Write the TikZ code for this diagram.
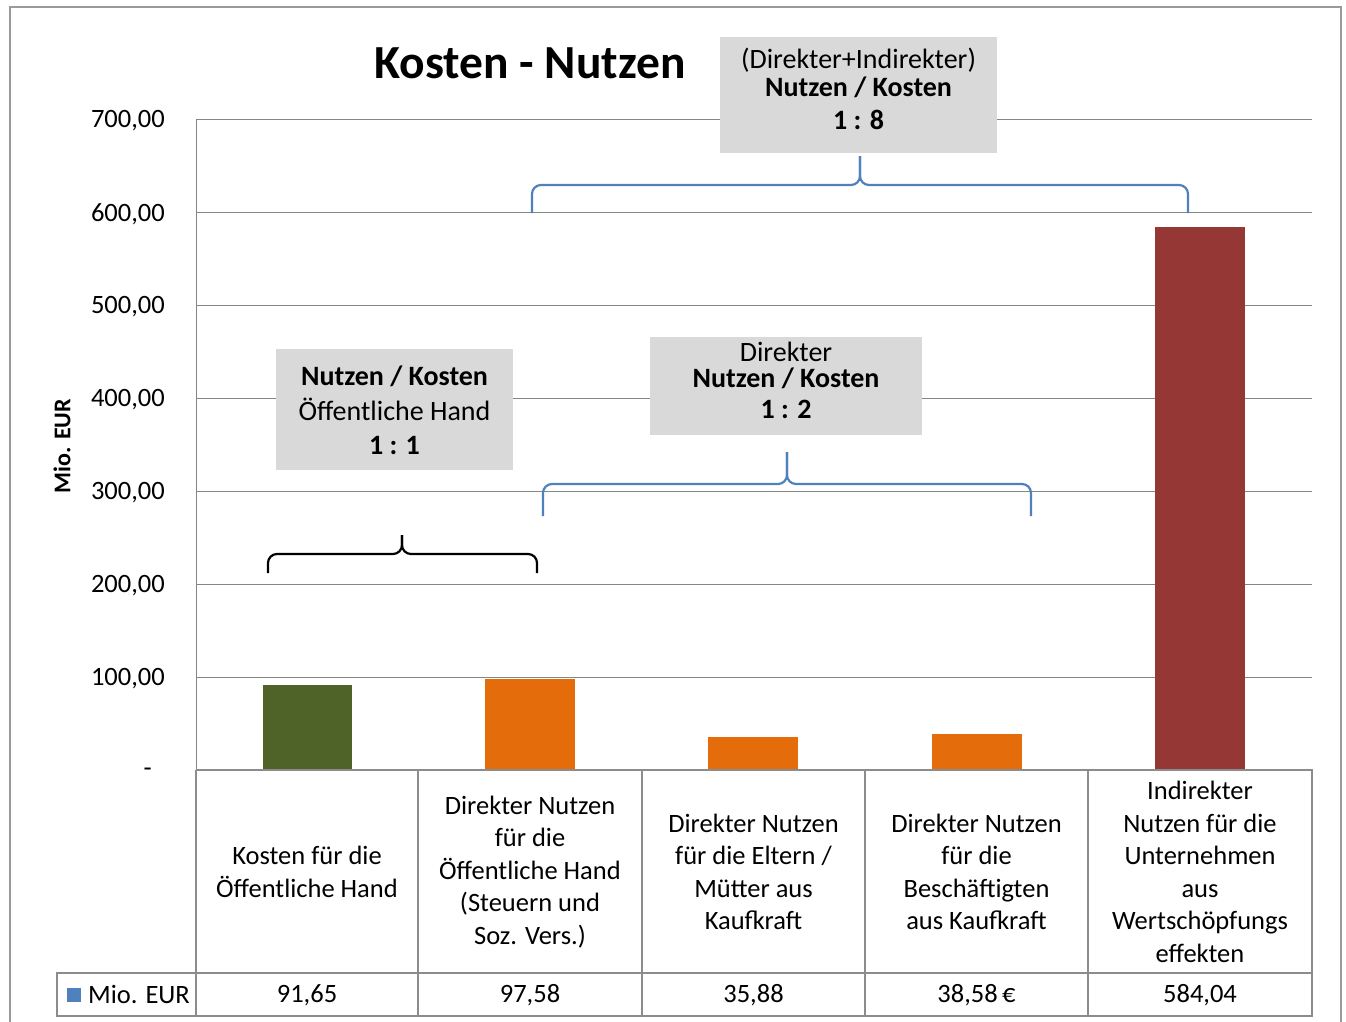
\documentclass[tikz,border=0pt]{standalone}
\usepackage{fontspec}
\setmainfont{Carlito}
\usetikzlibrary{positioning}

\definecolor{gitter}{HTML}{868686}
\definecolor{tabgrau}{HTML}{8C8C8C}
\definecolor{rahmengrau}{HTML}{9A9A9A}
\definecolor{boxgrau}{HTML}{D9D9D9}
\definecolor{gruen}{HTML}{4F6228}
\definecolor{orange}{HTML}{E46C0A}
\definecolor{rot}{HTML}{953735}
\definecolor{blau}{HTML}{4F81BD}

\begin{document}
\begin{tikzpicture}[x=1pt,y=-1pt,
  every node/.style={font=\fontsize{26.5}{32.5}\selectfont, inner sep=0pt},
  infobox/.style={fill=boxgrau},
  boxtext/.style={align=center, font=\fontsize{28}{34.5}\selectfont},
  kategorie/.style={align=center},
  tabelle/.style={tabgrau, line width=2pt},
  klammer/.style={line width=2.2pt, rounded corners=9pt}]
\useasboundingbox (0,0) rectangle (1346,1021);
\clip (0,0) rectangle (1346,1021);

% Rahmen und Titel
\draw[rahmengrau, line width=2.5pt] (10,7) rectangle (1341,1040);
\node[font=\fontsize{47.5}{56}\selectfont\bfseries] (titel) at (530,63.5) {Kosten - Nutzen};

% Gitter und Achse
\foreach \v in {100,200,...,700}{
  \draw[gitter, line width=1pt] (196,{770-\v*0.93}) -- (1312,{770-\v*0.93});
  \node[anchor=east] (tick\v) at (165,{772-\v*0.93}) {\v,00};
}
\node[anchor=east] (tick0) at (152,772) {-};
\draw[gitter, line width=1pt] (196,119) -- (196,770);
\node[rotate=90, font=\fontsize{24}{28}\selectfont\bfseries] (achse) at (62,446) {Mio. EUR};

% Balken
\fill[gruen]  (263,770) rectangle (352,{770-91.65*0.93});
\fill[orange] (485,770) rectangle (575,{770-97.58*0.93});
\fill[orange] (708,770) rectangle (798,{770-35.88*0.93});
\fill[orange] (932,770) rectangle (1022,{770-38.58*0.93});
\fill[rot]    (1155,770) rectangle (1245,{770-584.04*0.93});

% Tabelle
\draw[tabelle] (196,770) -- (1312,770) -- (1312,973);
\draw[tabelle] (57,973) rectangle (1312,1016);
\foreach \x in {196,418,642,865,1088}
  \draw[tabelle] (\x,770) -- (\x,1016);

\node[kategorie] (kat1) at (307,872) {Kosten für die\\Öffentliche Hand};
\node[kategorie] (kat2) at (530,872) {Direkter Nutzen\\für die\\Öffentliche Hand\\(Steuern und\\Soz. Vers.)};
\node[kategorie] (kat3) at (753.5,872) {Direkter Nutzen\\für die Eltern /\\Mütter aus\\Kaufkraft};
\node[kategorie] (kat4) at (976.5,872) {Direkter Nutzen\\für die\\Beschäftigten\\aus Kaufkraft};
\node[kategorie] (kat5) at (1200,872) {Indirekter\\Nutzen für die\\Unternehmen\\aus\\Wertschöpfungs\\effekten};

\fill[blau] (67,988) rectangle (81,1002);
\node[anchor=west] (legende) at (88,994) {Mio. EUR};
\node (wert1) at (307,995) {91,65};
\node (wert2) at (530,995) {97,58};
\node (wert3) at (753.5,995) {35,88};
\node (wert4) at (976.5,995) {38,58\,€};
\node (wert5) at (1200,995) {584,04};

% Klammern
\draw[klammer, black] (268,573) -- (268,554) -- (402,554) -- (402,535);
\draw[klammer, black] (537,573) -- (537,554) -- (402,554) -- (402,535);
\draw[klammer, blau] (543,516) -- (543,484) -- (787,484) -- (787,452);
\draw[klammer, blau] (1031,516) -- (1031,484) -- (787,484) -- (787,452);
\draw[klammer, blau] (532,213) -- (532,185) -- (860,185) -- (860,156);
\draw[klammer, blau] (1188,213) -- (1188,185) -- (860,185) -- (860,156);

% Verhaeltnisse
\node[infobox, minimum width=237, minimum height=121] (box1) at (394.5,409.5) {};
\node[boxtext] (box1text) at (394.5,410.5) {\textbf{Nutzen / Kosten}\\Öffentliche Hand\\\textbf{1 : 1}};
\node[infobox, minimum width=272, minimum height=98] (box2) at (786,386) {};
\node[boxtext] (box2text) at (786,380) {Direkter\\[-8pt]\textbf{Nutzen / Kosten}\\[-4pt]\textbf{1 : 2}};
\node[infobox, minimum width=277, minimum height=116] (box3) at (858.5,95) {};
\node[boxtext] (box3text) at (858.5,88.5) {(Direkter+Indirekter)\\[-6pt]\textbf{Nutzen / Kosten}\\[-2pt]\textbf{1 : 8}};
\end{tikzpicture}
\end{document}
